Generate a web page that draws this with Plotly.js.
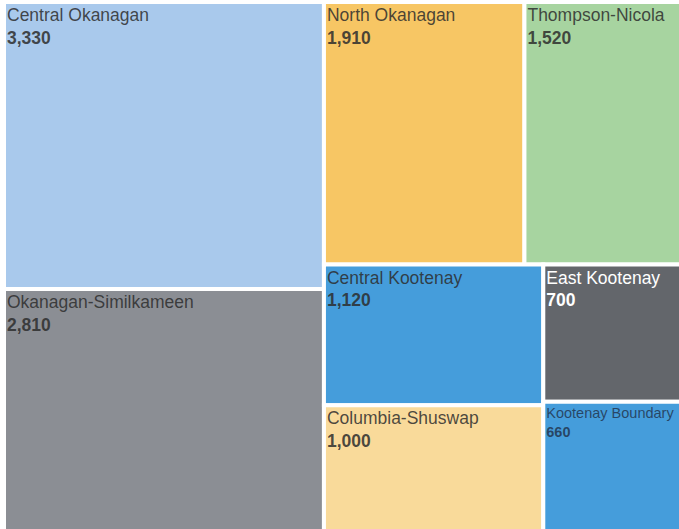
<!DOCTYPE html>
<html>
<head>
<meta charset="utf-8">
<script src="https://cdn.plot.ly/plotly-3.0.1.min.js"></script>
<style>
html, body { margin: 0; padding: 0; overflow: hidden; background: #fff; width: 679px; height: 529px; }
#chart { width: 684px; height: 531px; }
</style>
</head>
<body>
<div id="chart"></div>
<script>
const regions = ["Central Okanagan", "Okanagan-Similkameen", "North Okanagan", "Thompson-Nicola", "Central Kootenay", "Columbia-Shuswap", "East Kootenay", "Kootenay Boundary"];
const counts = [3330, 2810, 1910, 1520, 1120, 1000, 700, 660];
const tileColors = ["#a9c9ec", "#8b8e94", "#f7c664", "#a7d4a0", "#459ddb", "#f9da9a", "#63666b", "#459ddb"];
const textColors = ["rgba(45,45,45,0.85)", "rgba(45,45,45,0.85)", "rgba(45,45,45,0.85)", "rgba(45,45,45,0.85)", "rgba(45,45,45,0.85)", "rgba(45,45,45,0.85)", "#ffffff", "rgba(35,55,80,0.85)"];
const textSizes = [17.5, 17.5, 17.5, 17.5, 17.5, 17.5, 17.5, 14.5];

const trace = {
  type: "treemap",
  labels: regions,
  parents: regions.map(() => ""),
  values: counts,
  sort: true,
  tiling: { packing: "squarify", pad: 0 },
  texttemplate: "%{label}<br><b>%{value:,}</b>",
  textposition: "top left",
  textfont: { family: "Liberation Sans, Arial, sans-serif", size: textSizes, color: textColors },
  marker: { colors: tileColors, line: { width: 4, color: "#ffffff" }, cornerradius: 6, pad: { t: 0, l: 0, r: 0, b: 0 } },
  leaf: { opacity: 1 },
  pathbar: { visible: false },
  domain: { x: [0, 1], y: [0, 1] },
  hoverinfo: "label+value"
};

Plotly.newPlot("chart", [trace], {
  width: 684,
  height: 531,
  margin: { l: 4, r: 0, t: 2, b: 0, pad: 0 },
  paper_bgcolor: "#ffffff",
  showlegend: false
}, { displayModeBar: false, staticPlot: true });
</script>
</body>
</html>
